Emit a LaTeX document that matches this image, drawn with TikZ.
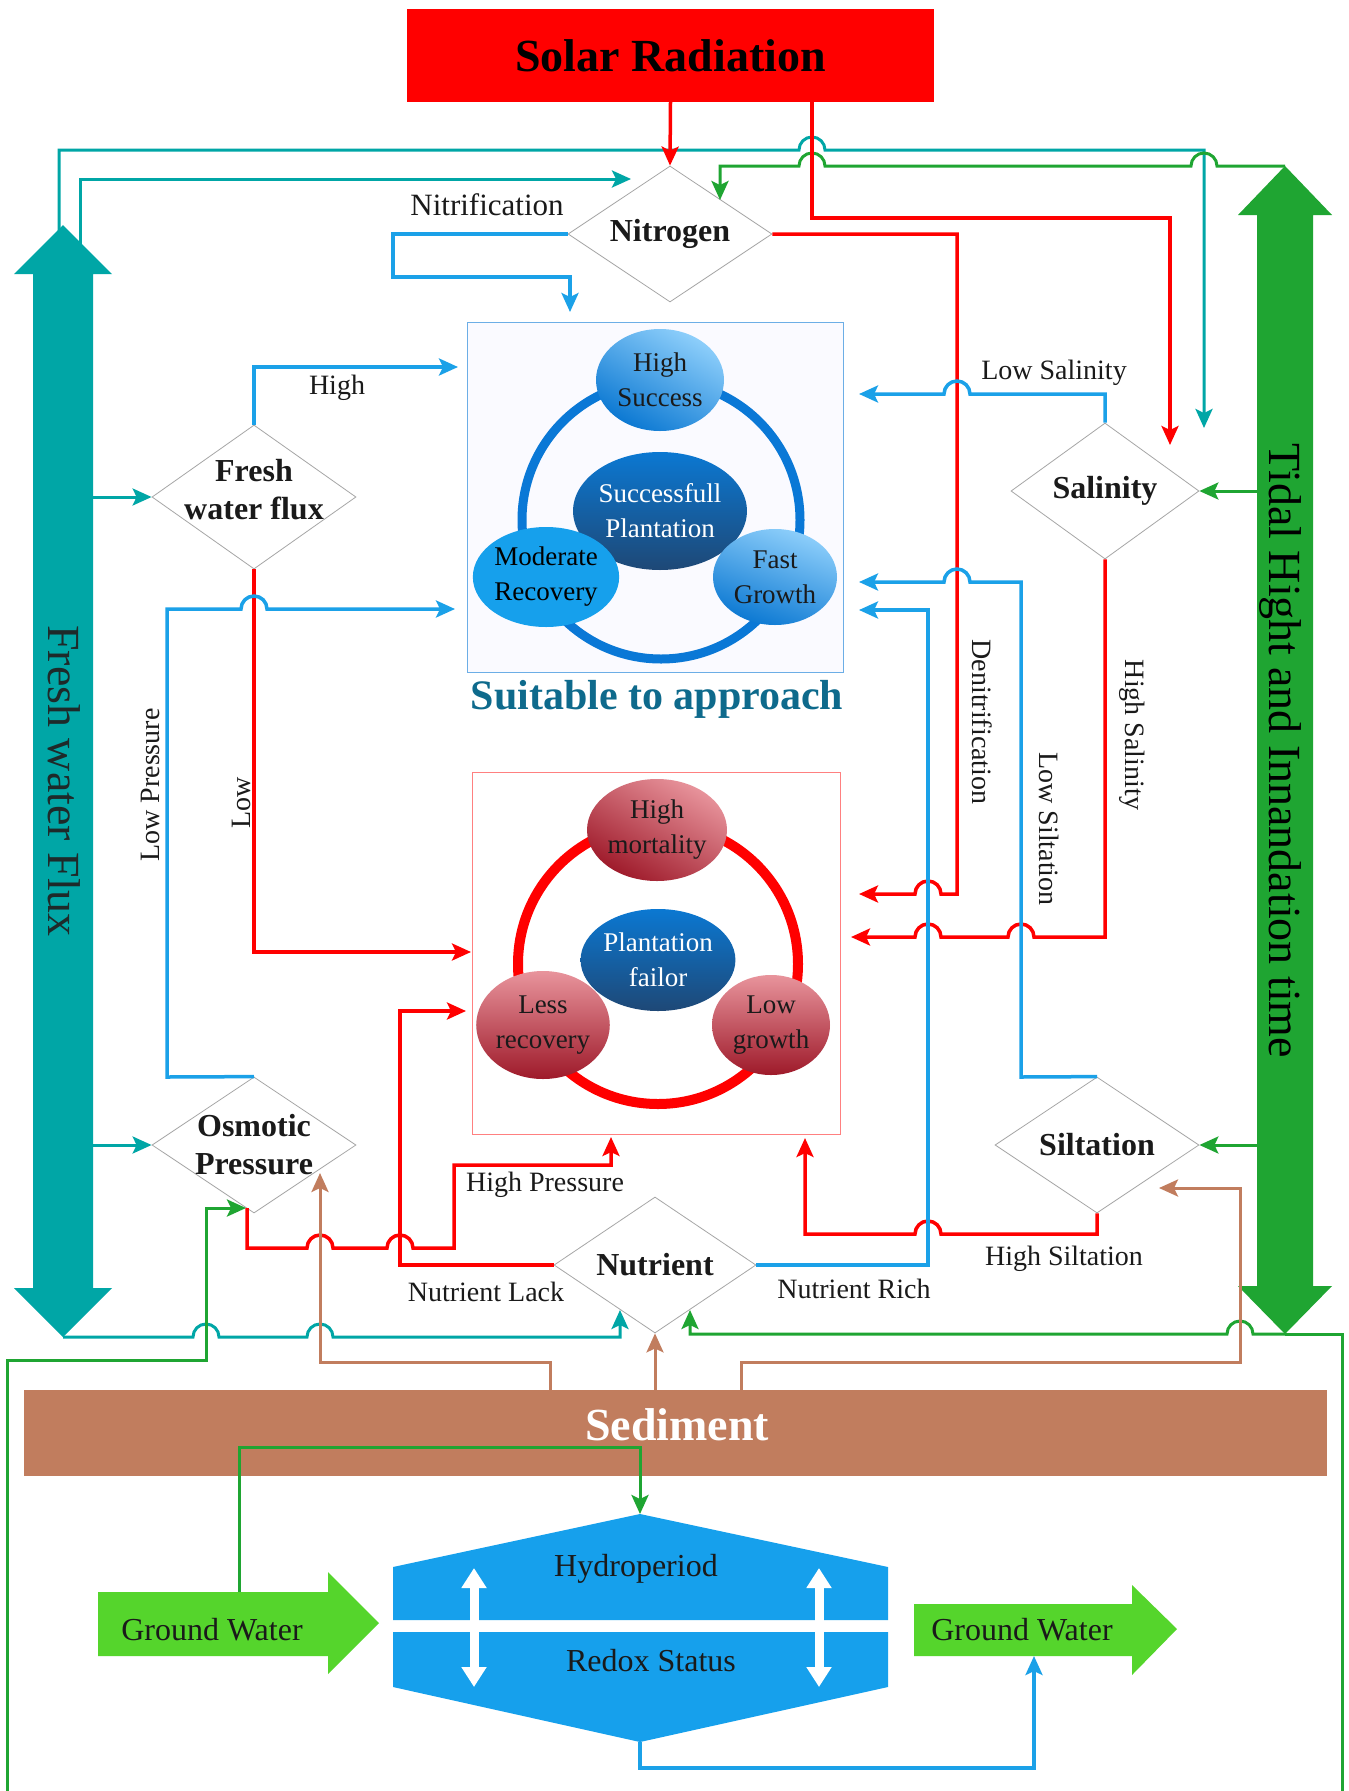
\documentclass[tikz,border=0pt]{standalone}
\usepackage{fontspec}
\setmainfont{Liberation Serif}
\usetikzlibrary{arrows.meta,shapes.geometric}
\definecolor{cteal}{HTML}{00A6A6}
\definecolor{cgreen}{HTML}{1FA532}
\definecolor{cred}{HTML}{FF0000}
\definecolor{cblue}{HTML}{1BA1E8}
\definecolor{cbrown}{HTML}{C17D5E}
\definecolor{cgw}{HTML}{55D52C}
\definecolor{chex}{HTML}{16A0EC}
\definecolor{cring}{HTML}{0A78D6}
\definecolor{ctitle}{HTML}{0E6A8C}
\definecolor{cfwf}{HTML}{1E2A2A}
\definecolor{ctxt}{HTML}{1A1A1A}
\definecolor{lball}{HTML}{8ECFFB}
\definecolor{dball}{HTML}{0B78D2}
\definecolor{nball}{HTML}{1E4876}
\definecolor{pball}{HTML}{E8949C}
\definecolor{rball}{HTML}{9E1A2A}
\newcommand\hopr[2]{-- ({#1-13},#2) arc[start angle=180,end angle=0,radius=13pt]}
\newcommand\hopl[2]{-- ({#1+13},#2) arc[start angle=0,end angle=180,radius=13pt]}
\begin{document}
\begin{tikzpicture}[x=1pt,y=-1pt,
  every node/.style={inner sep=0pt},
  tip/.style={-{Stealth[length=19pt,width=17pt,inset=4pt]}},
  redL/.style={draw=cred,line width=3.5pt,tip},
  blueL/.style={draw=cblue,line width=3.5pt,tip},
  tealL/.style={draw=cteal,line width=3pt,tip},
  greenL/.style={draw=cgreen,line width=3pt,tip},
  brownL/.style={draw=cbrown,line width=3pt,tip},
  dia/.style={diamond,draw=black!35,line width=0.8pt,fill=white,minimum width=204pt,minimum height=136pt},
  diatxt/.style={font=\fontsize{32}{38}\selectfont\bfseries,align=center,text=ctxt},
  lab/.style={font=\fontsize{28}{32}\selectfont,text=ctxt},
  balltxt/.style={font=\fontsize{27}{35}\selectfont,align=center,text=ctxt},
  bigtxt/.style={font=\fontsize{46}{50}\selectfont},
  gwtxt/.style={font=\fontsize{32}{36}\selectfont,text=ctxt}
]
\useasboundingbox (0,0) rectangle (1349,1791);
\fill[white] (0,0) rectangle (1349,1791);

% ---------- big side arrows
\fill[cteal] (63,225) -- (112,274) -- (93,274) -- (93,1288) -- (112,1288) -- (63,1337) -- (14,1288) -- (33,1288) -- (33,274) -- (14,274) -- cycle;
\coordinate (fwfTop) at (63,225);
\coordinate (fwfBot) at (63,1337);
\coordinate (fwfA) at (59,232);
\coordinate (fwfB) at (80,245);
\coordinate (fwfC) at (93,497);
\coordinate (fwfD) at (93,1145);
\node[bigtxt,rotate=-90,text=cfwf] (fwfT) at (64,781) {Fresh water Flux};

\fill[cgreen] (1285,166) -- (1332,215) -- (1313,215) -- (1313,1286) -- (1332,1286) -- (1285,1334) -- (1238,1286) -- (1257,1286) -- (1257,215) -- (1238,215) -- cycle;
\coordinate (tidTop) at (1285,166);
\coordinate (tidBot) at (1285,1334);
\coordinate (tidC) at (1257,491);
\coordinate (tidD) at (1257,1145);
\node[bigtxt,rotate=-90,text=black] (tidT) at (1280,751) {Tidal Hight and Innandation time};

% ---------- solar
\node[fill=cred,minimum width=527pt,minimum height=93pt,font=\fontsize{46}{50}\selectfont\bfseries] (solar) at (670.5,55.5) {Solar Radiation};
\coordinate (solarB) at (812,102);

% ---------- suitable box
\node[draw=cring!60,line width=1pt,fill=blue!2,minimum width=376pt,minimum height=350pt] (suit) at (655,497) {};
\draw[cring,line width=9pt] (661,520) circle[radius=139pt];
\node[ellipse,minimum width=128pt,minimum height=102pt,top color=lball,bottom color=dball,shading angle=-30,balltxt] (hs) at (660,380) {High\\Success};
\node[ellipse,minimum width=154pt,minimum height=118pt,top color=dball,bottom color=nball,balltxt,text=white] (sp) at (660,511) {Successfull\\Plantation};
\node[ellipse,minimum width=122pt,minimum height=100pt,fill=chex,balltxt,text=black] (mr) at (546,577) {Moderate\\Recovery};
\node[ellipse,minimum width=124pt,minimum height=96pt,top color=lball,bottom color=dball,shading angle=-20,balltxt] (fg) at (775,577) {Fast\\Growth};
\node[font=\fontsize{42}{46}\selectfont\bfseries,text=ctitle] (title) at (657,699) {Suitable to approach};

% ---------- failure box
\node[draw=cred!50,line width=1pt,fill=white,minimum width=368pt,minimum height=362pt] (fail) at (656,953) {};
\draw[cred,line width=10pt] (658,964) circle[radius=140pt];
\node[ellipse,minimum width=130pt,minimum height=102pt,top color=pball,bottom color=rball,shading angle=-30,balltxt] (hm) at (657,830) {High\\mortality};
\node[ellipse,minimum width=128pt,minimum height=102pt,top color=dball,bottom color=nball,balltxt,text=white] (pf) at (658,960) {Plantation\\failor};
\node[ellipse,minimum width=124pt,minimum height=108pt,top color=pball,bottom color=rball,balltxt] (lr) at (543,1025) {Less\\recovery};
\node[ellipse,minimum width=118pt,minimum height=100pt,top color=pball,bottom color=rball,balltxt] (lg) at (771,1025) {Low\\growth};

% ---------- diamonds
\node[dia] (nit) at (670,234) {};
\node[diatxt] (nitT) at (nit.center) {Nitrogen};
\node[dia,minimum height=144pt] (fwd) at (254,497) {};
\node[diatxt] (fwdT) at (254,490) {Fresh\\water flux};
\node[dia,minimum width=188pt] (sal) at (1105,491) {};
\node[diatxt] (salT) at (sal.center) {Salinity};
\node[dia] (osm) at (254,1145) {};
\node[diatxt] (osmT) at (osm.center) {Osmotic\\Pressure};
\node[dia] (sil) at (1097,1145) {};
\node[diatxt] (silT) at (sil.center) {Siltation};
\node[dia,minimum width=202pt] (nut) at (655,1265) {};
\node[diatxt] (nutT) at (nut.center) {Nutrient};

% ---------- sediment
\node[fill=cbrown,minimum width=1303pt,minimum height=86pt] (sed) at (675.5,1433) {};
\node[font=\fontsize{46}{50}\selectfont\bfseries,text=white] (sedT) at (677,1425) {Sediment};

% ---------- hexagon and ground water
\fill[chex] (393,1620) -- (393,1567) -- (640,1514) -- (888,1567) -- (888,1620) -- cycle;
\fill[chex] (393,1632) -- (888,1632) -- (888,1687) -- (640,1742) -- (393,1687) -- cycle;
\coordinate (hexTop) at (640,1514);
\coordinate (hexBot) at (640,1742);
\node[gwtxt] (hyd) at (636,1569) {Hydroperiod};
\node[gwtxt] (redox) at (651,1661) {Redox Status};
\coordinate (wa1) at (474,1568);
\coordinate (wa2) at (474,1687);
\coordinate (wb1) at (819,1568);
\coordinate (wb2) at (819,1687);
\draw[white,line width=9pt,{Triangle[length=20pt,width=24pt]}-{Triangle[length=20pt,width=24pt]}] (wa1) -- (wa2);
\draw[white,line width=9pt,{Triangle[length=20pt,width=24pt]}-{Triangle[length=20pt,width=24pt]}] (wb1) -- (wb2);

\fill[cgw] (98,1592) -- (328,1592) -- (328,1572) -- (379,1623) -- (328,1674) -- (328,1656) -- (98,1656) -- cycle;
\node[gwtxt] (gwL) at (212,1630) {Ground Water};
\coordinate (gwLtop) at (239,1592);
\fill[cgw] (914,1604) -- (1132,1604) -- (1132,1585) -- (1177,1629) -- (1132,1675) -- (1132,1656) -- (914,1656) -- cycle;
\node[gwtxt] (gwR) at (1022,1630) {Ground Water};
\coordinate (gwRbot) at (1034,1656);

% ---------- free ends
\coordinate (suitTop) at (570,312);
\coordinate (suitHigh) at (458,367);
\coordinate (suitLP) at (455,609);
\coordinate (suitLS) at (859,394);
\coordinate (suitSi) at (859,582);
\coordinate (suitNR) at (859,610);
\coordinate (failDen) at (859,894);
\coordinate (failHS) at (851,937);
\coordinate (failLow) at (471,952);
\coordinate (failNL) at (466,1011);
\coordinate (failHP) at (611,1137);
\coordinate (failHSi) at (805,1138);
\coordinate (salRed) at (1170,445);
\coordinate (salTeal) at (1204,428);
\coordinate (nitTeal) at (631,179);
\coordinate (nitGreen) at (720,200);
\coordinate (nutTeal) at (620,1310);
\coordinate (nutGreen) at (690,1310);
\coordinate (osmGreen) at (246,1208);
\coordinate (osmRed) at (247,1208);
\coordinate (osmBrown) at (320,1173);
\coordinate (silBrown) at (1159,1188);

% ---------- teal connectors
\draw[tealL] (fwfA) -- (59,150) \hopr{812}{150} -- (1204,150) -- (salTeal);
\draw[tealL] (fwfB) -- (80,179) -- (nitTeal);
\draw[tealL] (fwfC) -- (fwd.west);
\draw[tealL] (fwfD) -- (osm.west);
\draw[tealL] (fwfBot) \hopr{206}{1337} \hopr{320}{1337} -- (620,1337) -- (nutTeal);

% ---------- green connectors
\draw[greenL] (tidTop) \hopl{1204}{166} \hopl{812}{166} -- (720,166) -- (nitGreen);
\draw[greenL] (tidC) -- (sal.east);
\draw[greenL] (tidD) -- (sil.east);
\draw[greenL] (tidBot) \hopl{1240}{1334} -- (690,1334) -- (nutGreen);
\draw[greenL] (tidBot) -- (1342,1334) -- (1342,1797) -- (7,1797) -- (7,1360) -- (206,1360) -- (206,1208) -- (osmGreen);
\draw[greenL] (gwLtop) -- (239,1447) -| (hexTop);

% ---------- red connectors
\draw[redL] (solar.south) -- (nit.north);
\draw[redL] (solarB) -- (812,218) -| (salRed);
\draw[redL] (nit.east) -- (957,234) -- (957,894) \hopl{928}{894} -- (failDen);
\draw[redL] (sal.south) -- (1105,937) \hopl{1021}{937} \hopl{928}{937} -- (failHS);
\draw[redL] (fwd.south) |- (failLow);
\draw[redL] (osmRed) -- (247,1248) \hopr{320}{1248} \hopr{400}{1248} -- (454,1248) -- (454,1165) -| (failHP);
\draw[redL] (nut.west) -| (400,1011) -- (failNL);
\draw[redL] (sil.south) -- (1097,1234) \hopl{928}{1234} -- (805,1234) -- (failHSi);

% ---------- blue connectors
\draw[blueL] (nit.west) -- (393,234) |- (570,277) -- (suitTop);
\draw[blueL] (fwd.north) |- (suitHigh);
\draw[blueL] (osm.north) -- (167,1077) -- (167,609) \hopr{254}{609} -- (suitLP);
\draw[blueL] (sal.north) -- (1105,394) \hopl{957}{394} -- (suitLS);
\draw[blueL] (sil.north) -- (1021,1077) -- (1021,582) \hopl{957}{582} -- (suitSi);
\draw[blueL] (nut.east) -- (928,1265) -- (928,610) -- (suitNR);
\draw[blueL] (hexBot) -- (640,1768) -| (gwRbot);

% ---------- brown connectors
\draw[brownL] (nut.south |- sed.north) -- (nut.south);
\draw[brownL] (550,1390) -- (550,1362) -| (osmBrown);
\draw[brownL] (741,1390) -- (741,1362) -- (1240,1362) |- (silBrown);

% ---------- labels
\node[lab,font=\fontsize{31}{34}\selectfont] (lNit) at (487,205) {Nitrification};
\node[lab] (lHigh) at (337,388) {High};
\node[lab] (lLS) at (1054,373) {Low Salinity};
\node[lab,rotate=90] (lLP) at (150,785) {Low Pressure};
\node[lab,rotate=90] (lLow) at (241,803) {Low};
\node[lab,rotate=-90] (lDen) at (982,722) {Denitrification};
\node[lab,rotate=-90] (lLSi) at (1049,829) {Low Siltation};
\node[lab,rotate=-90] (lHS) at (1132,735) {High Salinity};
\node[lab] (lHP) at (545,1185) {High Pressure};
\node[lab] (lNL) at (486,1292) {Nutrient Lack};
\node[lab] (lNR) at (854,1289) {Nutrient Rich};
\node[lab] (lHSi) at (1064,1259) {High Siltation};
\end{tikzpicture}
\end{document}
